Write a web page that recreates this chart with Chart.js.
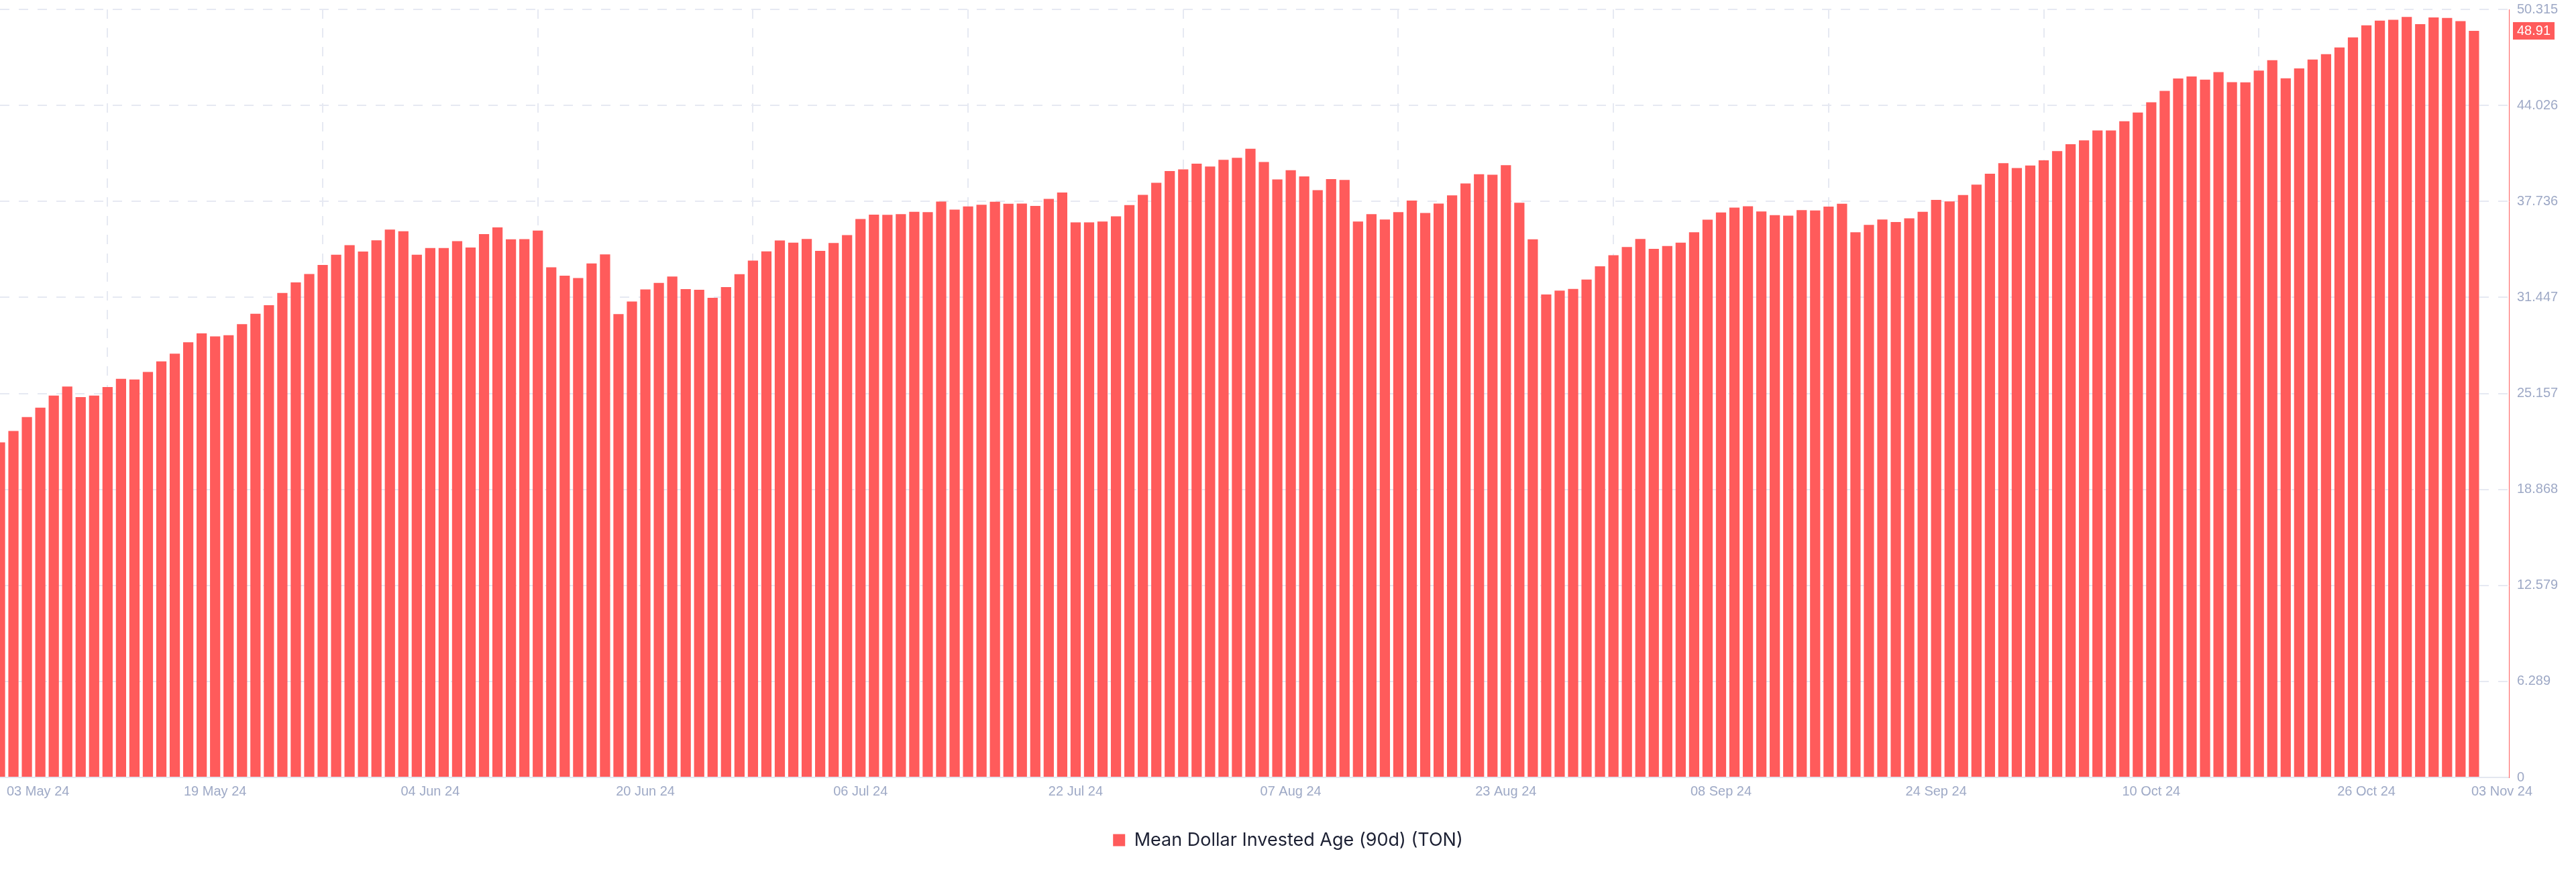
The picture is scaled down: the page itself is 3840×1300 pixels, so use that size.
<!DOCTYPE html>
<html>
<head>
<meta charset="utf-8">
<title>Mean Dollar Invested Age (90d) (TON)</title>
<script src="https://cdn.jsdelivr.net/npm/chart.js@4.4.1/dist/chart.umd.min.js"></script>
<style>
  html, body { margin: 0; padding: 0; background: #fff; }
  #wrap { width: 3840px; height: 1300px; }
</style>
</head>
<body>
<div id="wrap"><canvas id="chart-mdia" width="3840" height="1300"></canvas></div>
<script>
// Daily values, 03 May 24 .. 03 Nov 24 (one bar per day)
const mdiaValues = [
    21.95, 22.70, 23.61, 24.22, 25.01, 25.61, 24.92, 25.01, 25.58, 26.11,
    26.07, 26.56, 27.26, 27.76, 28.51, 29.09, 28.89, 28.97, 29.69, 30.38,
    30.94, 31.74, 32.43, 32.98, 33.57, 34.24, 34.87, 34.45, 35.19, 35.89,
    35.78, 34.24, 34.68, 34.68, 35.13, 34.72, 35.59, 36.03, 35.25, 35.26,
    35.82, 33.42, 32.87, 32.72, 33.67, 34.27, 30.35, 31.18, 31.97, 32.40,
    32.82, 31.99, 31.95, 31.42, 32.12, 32.97, 33.86, 34.46, 35.18, 35.03,
    35.28, 34.49, 35.01, 35.53, 36.58, 36.87, 36.86, 36.90, 37.05, 37.03,
    37.72, 37.20, 37.41, 37.52, 37.71, 37.58, 37.59, 37.44, 37.90, 38.32,
    36.36, 36.36, 36.42, 36.76, 37.49, 38.17, 38.96, 39.73, 39.83, 40.21,
    40.02, 40.46, 40.59, 41.19, 40.32, 39.18, 39.78, 39.37, 38.47, 39.20,
    39.14, 36.42, 36.90, 36.55, 37.03, 37.79, 36.98, 37.59, 38.13, 38.91,
    39.52, 39.48, 40.11, 37.65, 35.25, 31.64, 31.89, 32.00, 32.62, 33.48,
    34.21, 34.75, 35.28, 34.63, 34.81, 35.03, 35.72, 36.54, 37.01, 37.33,
    37.42, 37.08, 36.83, 36.80, 37.17, 37.14, 37.40, 37.58, 35.72, 36.20,
    36.55, 36.38, 36.63, 37.05, 37.83, 37.74, 38.15, 38.83, 39.55, 40.24,
    39.92, 40.09, 40.43, 41.03, 41.48, 41.74, 42.38, 42.38, 42.99, 43.56,
    44.23, 44.98, 45.79, 45.92, 45.71, 46.21, 45.55, 45.54, 46.30, 46.99,
    45.80, 46.45, 47.03, 47.38, 47.82, 48.48, 49.27, 49.58, 49.63, 49.82,
    49.35, 49.79, 49.76, 49.55, 48.91
];

// x tick positions (days after 03 May 24) and their labels
const tickDays = [0, 16, 32, 48, 64, 80, 96, 112, 128, 144, 160, 176, 184];
const tickLabels = ['03 May 24', '19 May 24', '04 Jun 24', '20 Jun 24', '06 Jul 24', '22 Jul 24',
    '07 Aug 24', '23 Aug 24', '08 Sep 24', '24 Sep 24', '10 Oct 24', '26 Oct 24', '03 Nov 24'];

// y axis ticks as printed on the right
const yTickLabels = ['0', '6.289', '12.579', '18.868', '25.157', '31.447', '37.736', '44.026', '50.315'];

const seriesName = 'Mean Dollar Invested Age (90d) (TON)';
const RED = '#ff5b5b';
const GRID = '#e6e9f2';
const TICK_COLOR = '#9ea9c6';
const TICK_FONT = '20px "Liberation Sans", Arial, sans-serif';

// date labels under the chart (first one kept inside the canvas)
const dateLabelsPlugin = {
    id: 'dateLabels',
    afterDraw(chart) {
        const xs = chart.scales.x;
        const ctx = chart.ctx;
        ctx.save();
        ctx.font = TICK_FONT;
        ctx.fillStyle = TICK_COLOR;
        ctx.textAlign = 'left';
        ctx.textBaseline = 'middle';
        const y = chart.chartArea.bottom + 21;
        tickDays.forEach((d, i) => {
            const px = xs.getPixelForValue(d);
            const w = ctx.measureText(tickLabels[i]).width;
            let left = px - w / 2;
            if (i === 0) left = Math.max(left, 10);
            if (i === tickDays.length - 1) left = px - 4;
            ctx.fillText(tickLabels[i], left, y);
        });
        ctx.restore();
    }
};

// last value badge on the right axis
const lastValuePlugin = {
    id: 'lastValue',
    afterDraw(chart) {
        const ys = chart.scales.y;
        const last = mdiaValues[mdiaValues.length - 1];
        const y = ys.getPixelForValue(last);
        const ctx = chart.ctx;
        const x0 = chart.chartArea.right + 6;
        ctx.save();
        ctx.fillStyle = RED;
        ctx.fillRect(x0, Math.round(y - 13), 62, 26);
        ctx.font = TICK_FONT;
        ctx.fillStyle = '#ffffff';
        ctx.textAlign = 'left';
        ctx.textBaseline = 'middle';
        ctx.fillText(last.toFixed(2), x0 + 6, y + 1);
        ctx.restore();
    }
};

const ctx = document.getElementById('chart-mdia').getContext('2d');
const chart = new Chart(ctx, {
    type: 'bar',
    data: {
        datasets: [{
            label: seriesName,
            data: mdiaValues.map((v, i) => ({ x: i, y: v })),
            backgroundColor: RED,
            borderWidth: 0,
            barPercentage: 0.76,
            categoryPercentage: 1
        }]
    },
    options: {
        responsive: false,
        animation: false,
        devicePixelRatio: 1,
        layout: { padding: { top: 14, left: 0, right: 0, bottom: 24 } },
        plugins: {
            legend: {
                position: 'bottom',
                labels: {
                    color: '#1c2033',
                    boxWidth: 18,
                    boxHeight: 18,
                    padding: 10,
                    font: { family: 'Inter', size: 27 }
                }
            },
            tooltip: { enabled: false }
        },
        scales: {
            x: {
                type: 'linear',
                min: 0,
                max: 186.6,
                offset: false,
                afterBuildTicks: (scale) => { scale.ticks = tickDays.map(v => ({ value: v })); },
                afterFit: (scale) => { scale.height = 70; },
                ticks: { display: false },
                grid: {
                    color: (c) => (c.index === tickDays.length - 1 ? 'rgba(0,0,0,0)' : GRID),
                    lineWidth: 2,
                    drawTicks: false
                },
                border: { display: true, color: '#e3e7f0', width: 2, dash: [14, 14] }
            },
            y: {
                position: 'right',
                min: 0,
                max: parseFloat(yTickLabels[yTickLabels.length - 1]),
                afterBuildTicks: (scale) => { scale.ticks = yTickLabels.map(t => ({ value: parseFloat(t) })); },
                afterFit: (scale) => {
                    scale.width = 100;
                    scale.paddingTop = 0;
                    scale.paddingBottom = 0;
                },
                ticks: {
                    color: TICK_COLOR,
                    padding: 12,
                    font: { family: '"Liberation Sans", Arial, sans-serif', size: 20 },
                    callback: (value, index) => yTickLabels[index]
                },
                grid: { color: GRID, lineWidth: 2, drawTicks: false },
                border: { display: true, color: RED, width: 1, dash: [14, 14] }
            }
        }
    },
    plugins: [dateLabelsPlugin, lastValuePlugin]
});
</script>
</body>
</html>
